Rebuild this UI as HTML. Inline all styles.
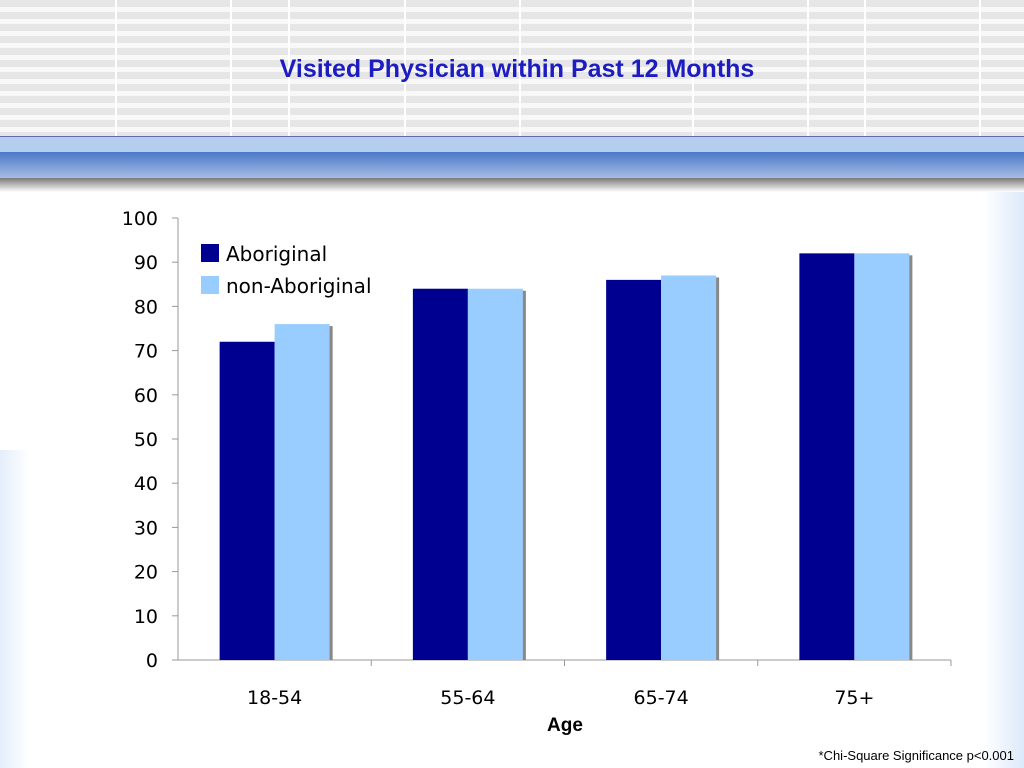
<!DOCTYPE html>
<html><head><meta charset="utf-8"><style>
body{margin:0;width:1024px;height:768px;overflow:hidden;background:#fff;font-family:"DejaVu Sans",sans-serif;position:relative}
#hdr{position:absolute;left:0;top:0;width:1024px;height:136px;background:repeating-linear-gradient(#e6e6e6 0 7px,#f8f8f8 7px 12px)}
.vl{position:absolute;top:0;width:2px;height:136px;background:#fff}
#band1{position:absolute;left:0;top:136px;width:1024px;height:16px;background:#b4cfee;border-top:1px solid #6a6ab0}
#band2{position:absolute;left:0;top:152px;width:1024px;height:26px;background:linear-gradient(#4a78c8,#a8bce4)}
#shadow{position:absolute;left:0;top:178px;width:1024px;height:14px;background:linear-gradient(#7a7a7a,#fff)}
#side{position:absolute;right:0;top:192px;width:40px;height:576px;background:linear-gradient(90deg,#fff,#dce9fa)}
#sidel{position:absolute;left:0;top:450px;width:30px;height:318px;background:linear-gradient(270deg,#fff,#e4eefb)}
#title{position:absolute;left:0;width:1034px;top:55px;text-align:center;font:bold 25px "Liberation Sans",sans-serif;color:#1c1cc0}
#note{position:absolute;right:10px;top:748px;font:13px "Liberation Sans",sans-serif}
</style></head><body>
<div id="hdr">
<div class="vl" style="left:115px"></div><div class="vl" style="left:230px"></div><div class="vl" style="left:288px"></div><div class="vl" style="left:404px"></div><div class="vl" style="left:519px"></div><div class="vl" style="left:692px"></div><div class="vl" style="left:807px"></div><div class="vl" style="left:864px"></div><div class="vl" style="left:979px"></div>
</div>
<div id="band1"></div>
<div id="band2"></div>
<div id="shadow"></div>
<div id="side"></div>
<div id="sidel"></div>
<div id="title">Visited Physician within Past 12 Months</div>
<svg id="chart" width="1024" height="768" style="position:absolute;left:0;top:0"></svg>
<div id="note">*Chi-Square Significance p&lt;0.001</div>
<script>
const categories=["18-54","55-64","65-74","75+"];
const aboriginal=[72,84,86,92];
const nonAboriginal=[76,84,87,92];
const yTicks=[0,10,20,30,40,50,60,70,80,90,100];
const NS="http://www.w3.org/2000/svg",svg=document.getElementById('chart');
const x0=178,x1=951,y0=660,y1=218;
const y=v=>y0-(v/100)*(y0-y1);
const bw=(x1-x0)/categories.length;
function mk(t,a,txt){const e=document.createElementNS(NS,t);for(const k in a)e.setAttribute(k,a[k]);if(txt!=null)e.textContent=txt;svg.appendChild(e);return e;}
let e=mk('line',{x1:x0,y1:y1,x2:x0,y2:y0,stroke:'#999'});

e=mk('line',{x1:x0,y1:y0,x2:x1,y2:y0,stroke:'#999'});

yTicks.forEach(t=>{
 let l=mk('line',{x1:x0-6,y1:y(t),x2:x0,y2:y(t),stroke:'#999'});
 
 let tx=mk('text',{x:x0-20,y:y(t)+7,'text-anchor':'end','font-size':19,'font-family':'DejaVu Sans,sans-serif'},t);
 
});
categories.forEach((c,i)=>{
 const cx=x0+bw*(i+0.5);
 let l=mk('line',{x1:x0+bw*(i+1),y1:y0,x2:x0+bw*(i+1),y2:y0+6,stroke:'#999'});
 
 let s=mk('rect',{x:cx+2,y:y(nonAboriginal[i])+2,width:56,height:y0-y(nonAboriginal[i])-2,fill:'#888'});
 
 let a=mk('rect',{x:cx-55,y:y(aboriginal[i]),width:55,height:y0-y(aboriginal[i]),fill:'#000090'});
 
 let b=mk('rect',{x:cx,y:y(nonAboriginal[i]),width:55,height:y0-y(nonAboriginal[i]),fill:'#99ccff'});
 
 let tx=mk('text',{x:cx,y:704,'text-anchor':'middle','font-size':19,'font-family':'DejaVu Sans,sans-serif'},c);
 
});
e=mk('text',{x:565,y:731,'text-anchor':'middle','font-size':19,'font-weight':'bold','font-family':'Liberation Sans,sans-serif'},'Age');

[['Aboriginal','#000090',244],['non-Aboriginal','#99ccff',276]].forEach(([n,c,yy])=>{
 let r=mk('rect',{x:201,y:yy,width:18,height:18,fill:c});
 
 let t=mk('text',{x:226,y:yy+17,'font-size':20,'font-family':'DejaVu Sans,sans-serif'},n);
 
});
</script>
</body></html>
